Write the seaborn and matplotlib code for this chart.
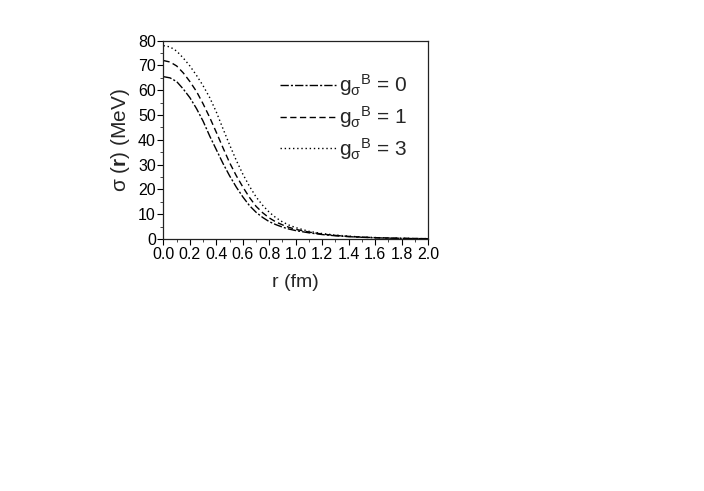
import numpy as np
import pandas as pd
import matplotlib
matplotlib.use("Agg")
import matplotlib.pyplot as plt
from matplotlib.ticker import MultipleLocator, FormatStrFormatter
import seaborn as sns

r = [0.0, 0.05, 0.1, 0.15, 0.2, 0.25, 0.3, 0.35, 0.4, 0.45, 0.5, 0.55, 0.6, 0.65,
     0.7, 0.75, 0.8, 0.85, 0.9, 0.95, 1.0, 1.1, 1.2, 1.3, 1.4, 1.5, 1.6, 1.7, 1.8, 1.9, 2.0]
sigma_g0 = [65.5, 65.0, 63.5, 60.5, 57.0, 52.6, 47.5, 41.5, 36.0, 30.5, 25.5, 21.0, 17.0, 13.5,
            10.8, 8.7, 7.0, 5.8, 4.8, 4.0, 3.4, 2.5, 1.8, 1.3, 0.95, 0.7, 0.5, 0.35, 0.25, 0.18, 0.12]
sigma_g1 = [72.0, 71.4, 69.8, 67.0, 63.5, 59.5, 54.5, 49.0, 43.0, 36.8, 30.8, 25.6, 21.0, 16.8,
            13.2, 10.6, 8.5, 6.9, 5.7, 4.7, 3.9, 2.8, 2.0, 1.45, 1.05, 0.75, 0.55, 0.4, 0.28, 0.2, 0.14]
sigma_g3 = [78.0, 77.5, 75.8, 73.0, 69.8, 66.0, 61.8, 57.0, 51.2, 44.5, 38.0, 31.8, 26.2, 21.3,
            17.0, 13.6, 10.8, 8.6, 6.9, 5.6, 4.6, 3.1, 2.2, 1.6, 1.15, 0.8, 0.6, 0.42, 0.3, 0.21, 0.15]
labels = ["g$_{\\mathrm{σ}}$$^{\\mathrm{B}}$ = 0",
          "g$_{\\mathrm{σ}}$$^{\\mathrm{B}}$ = 1",
          "g$_{\\mathrm{σ}}$$^{\\mathrm{B}}$ = 3"]
series = [sigma_g0, sigma_g1, sigma_g3]
styles = [(0, (6, 1.5, 1.5, 1.5)), (0, (4.5, 2.5)), (0, (1, 2.0))]

sns.set_style("ticks")
plt.rcParams["font.family"] = ["Liberation Sans", "DejaVu Sans"]
plt.rcParams["mathtext.fontset"] = "custom"
plt.rcParams["mathtext.rm"] = "Liberation Sans"
plt.rcParams["mathtext.it"] = "Liberation Sans:italic"
plt.rcParams["mathtext.bf"] = "Liberation Sans:bold"

fig = plt.figure(figsize=(7.04, 4.91), dpi=100)
ax = fig.add_axes([0.2322, 0.5132, 0.3757, 0.4039])

for vals, lab, ls in zip(series, labels, styles):
    df = pd.DataFrame({"r": r, "sigma": vals})
    sns.lineplot(data=df, x="r", y="sigma", ax=ax, color="black", linewidth=1.0,
                 linestyle=ls, label=lab)

ax.set_xlim(0, 2.0)
ax.set_ylim(0, 80)
ax.xaxis.set_major_locator(MultipleLocator(0.2))
ax.xaxis.set_minor_locator(MultipleLocator(0.1))
ax.xaxis.set_major_formatter(FormatStrFormatter("%.1f"))
ax.yaxis.set_major_locator(MultipleLocator(10))
ax.yaxis.set_minor_locator(MultipleLocator(5))
ax.tick_params(which="major", direction="out", length=4, width=0.8, labelsize=11.5, pad=1.5, colors="black")
ax.tick_params(which="minor", direction="out", length=2, width=0.6)
for s in ax.spines.values():
    s.set_linewidth(0.9)
    s.set_color("#222222")

ax.set_xlabel("r (fm)", fontsize=14, labelpad=9)
ax.set_ylabel("σ ($\\mathbf{r}$) (MeV)", fontsize=15, labelpad=4)

leg = ax.legend(loc="upper left", bbox_to_anchor=(0.44, 0.84), frameon=False,
                fontsize=15, handlelength=2.7, handletextpad=0.15, labelspacing=0.28,
                borderpad=0, borderaxespad=0)

fig.savefig("out.png", dpi=100)
